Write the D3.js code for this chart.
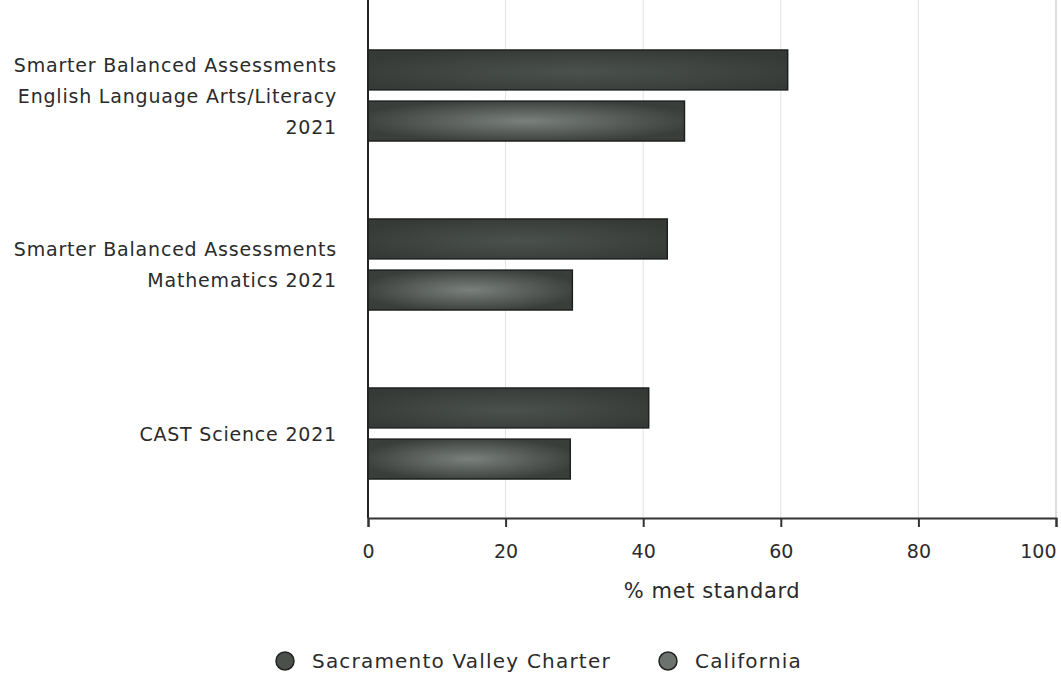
<!DOCTYPE html>
<html>
<head>
<meta charset="utf-8">
<script src="https://cdn.jsdelivr.net/npm/d3@7"></script>
<style>
  body { margin: 0; background: #fff; }
  text { font-family: "DejaVu Sans", sans-serif; fill: #2b2b2b; }
</style>
</head>
<body>
<div id="chart"></div>
<script>
// chart data
let categories = [
	["Smarter Balanced Assessments", "English Language Arts/Literacy", "2021"],
	["Smarter Balanced Assessments", "Mathematics 2021"],
	["CAST Science 2021"]
];
let series = ["Sacramento Valley Charter", "California"];
let sacramento = [61, 43.5, 40.8];
let california = [46, 29.7, 29.4];
let xTicks = [0, 20, 40, 60, 80, 100];

let width = 1061,
	height = 677;
let margin = {top: 11, bottom: 159, left: 368, right: 5};

let svg = d3.select('#chart').append('svg')
	.attr('width', width)
	.attr('height', height);

let defs = svg.append('defs');
// gradients: California bars have a lighter centre
let g1 = defs.append('radialGradient').attr('id', 'gradSac')
	.attr('cx', 0.5).attr('cy', 0.55).attr('r', 0.6);
g1.append('stop').attr('offset', '0%').attr('stop-color', '#4b514d');
g1.append('stop').attr('offset', '100%').attr('stop-color', '#363a37');
let g2 = defs.append('radialGradient').attr('id', 'gradCal')
	.attr('cx', 0.5).attr('cy', 0.5).attr('r', 0.55);
g2.append('stop').attr('offset', '0%').attr('stop-color', '#7a807b');
g2.append('stop').attr('offset', '100%').attr('stop-color', '#3a3e3b');

let x = d3.scaleLinear()
	.domain([0, 100])
	.range([margin.left, width - margin.right]);

let y0 = d3.scaleBand()
	.domain(d3.range(categories.length))
	.range([margin.top, height - margin.bottom]);

let y1 = d3.scaleBand()
	.domain(series)
	.range([39, 130])
	.paddingInner(0.22);

let colors = {"Sacramento Valley Charter": "url(#gradSac)", "California": "url(#gradCal)"};
let legendColors = {"Sacramento Valley Charter": "#4b504c", "California": "#6c726d"};

// grid lines
svg.append('g')
	.selectAll('line')
	.data(xTicks.slice(1, -1))
	.enter()
	.append('line')
	.attr('x1', d => x(d)).attr('x2', d => x(d))
	.attr('y1', 0).attr('y2', height - margin.bottom)
	.attr('stroke', '#e2e2e2')
	.attr('stroke-width', 1);

// right border
svg.append('line')
	.attr('x1', x(100)).attr('x2', x(100))
	.attr('y1', 0).attr('y2', height - margin.bottom)
	.attr('stroke', '#bbb');

// bars
let rows = categories.map((c, i) => ({i: i, values: [
	{key: series[0], value: sacramento[i]},
	{key: series[1], value: california[i]}
]}));

let group = svg.selectAll('.cat')
	.data(rows)
	.enter()
	.append('g')
	.attr('class', 'cat')
	.attr('transform', d => "translate(0," + y0(d.i) + ")");

group.selectAll('rect')
	.data(d => d.values)
	.enter()
	.append('rect')
	.attr('x', x(0))
	.attr('y', d => y1(d.key))
	.attr('width', d => x(d.value) - x(0))
	.attr('height', y1.bandwidth())
	.attr('fill', d => colors[d.key])
	.attr('stroke', '#1e211f')
	.attr('stroke-width', 1.5);

// category labels
group.append('text')
	.attr('text-anchor', 'end')
	.attr('font-size', '19px')
	.attr('letter-spacing', '0.8px')
	.attr('y', d => y0.bandwidth() / 2 - (categories[d.i].length - 1) * 15.5 + 7)
	.selectAll('tspan')
	.data(d => categories[d.i])
	.enter()
	.append('tspan')
	.attr('x', 337)
	.attr('dy', (d, i) => i == 0 ? 0 : 31)
	.text(d => d);

// left axis line
svg.append('line')
	.attr('x1', x(0)).attr('x2', x(0))
	.attr('y1', 0).attr('y2', height - margin.bottom)
	.attr('stroke', '#222')
	.attr('stroke-width', 2);

// x axis
let xaxis = d3.axisBottom(x)
	.tickValues(xTicks)
	.tickSize(9)
	.tickPadding(18);

let ax = svg.append('g')
	.attr('transform', "translate(0," + (height - margin.bottom) + ")")
	.call(xaxis);
ax.select('.domain').attr('stroke', '#333').attr('stroke-width', 2);
ax.selectAll('.tick line').attr('stroke', '#333').attr('stroke-width', 2);
ax.selectAll('.tick text')
	.attr('font-size', '19px')
	.attr('font-family', '"DejaVu Sans", sans-serif')
	.attr('fill', '#333')
	.attr('text-anchor', d => d == 100 ? 'end' : 'middle');

svg.append('text')
	.attr('x', 712)
	.attr('y', 598)
	.attr('text-anchor', 'middle')
	.attr('font-size', '21px')
	.attr('letter-spacing', '0.6px')
	.attr('fill', '#1e1e1e')
	.text("% met standard");

// legend
let legend = svg.append('g');
let legendX = [285, 668];
series.forEach((s, i) => {
	legend.append('circle')
		.attr('cx', legendX[i])
		.attr('cy', 661)
		.attr('r', 9)
		.attr('fill', legendColors[s])
		.attr('stroke', '#222')
		.attr('stroke-width', 1.5);
	legend.append('text')
		.attr('x', legendX[i] + 27)
		.attr('y', 668)
		.attr('font-size', '20px')
		.attr('letter-spacing', '1.2px')
		.text(s);
});
</script>
</body>
</html>
